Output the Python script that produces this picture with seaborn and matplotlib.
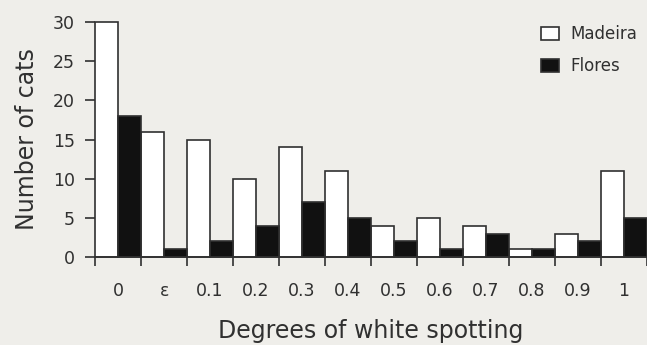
import pandas as pd
import matplotlib.pyplot as plt
import seaborn as sns

# values
categories = ['0', 'ε', '0.1', '0.2', '0.3', '0.4', '0.5', '0.6', '0.7', '0.8', '0.9', '1']
madeira = [30, 16, 15, 10, 14, 11, 4, 5, 4, 1, 3, 11]
flores = [18, 1, 2, 4, 7, 5, 2, 1, 3, 1, 2, 5]
y_ticks = [0, 5, 10, 15, 20, 25, 30]

df = pd.DataFrame({
    'spotting': categories * 2,
    'cats': madeira + flores,
    'island': ['Madeira'] * len(categories) + ['Flores'] * len(categories),
})

bg = '#efeeea'
ink = '#303030'

sns.set_style('white')
plt.rcParams['font.family'] = ['DejaVu Sans']

fig = plt.figure(figsize=(6.47, 3.45), dpi=100, facecolor=bg)
ax = fig.add_axes([0.147, 0.255, 0.853, 0.681])
ax.set_facecolor(bg)

sns.barplot(data=df, x='spotting', y='cats', hue='island', order=categories,
            hue_order=['Madeira', 'Flores'],
            palette={'Madeira': 'white', 'Flores': '#111111'},
            width=1.0, edgecolor=ink, linewidth=1.2, ax=ax)

ax.set_xlim(-0.5, len(categories) - 0.5)
ax.set_ylim(0, 30)
for bar in ax.patches:
    bar.set_clip_on(False)

# group boundaries get the tick marks, labels sit in the middle
ax.set_xticks(range(len(categories)))
ax.set_xticklabels(categories)
ax.set_xticks([i - 0.5 for i in range(len(categories) + 1)], minor=True)
ax.tick_params(axis='x', which='major', bottom=True, length=0, pad=18,
               labelsize=12.5, colors=ink)
ax.tick_params(axis='x', which='minor', bottom=True, length=6.5, width=1.2,
               color=ink, direction='out')
ax.set_yticks(y_ticks)
ax.tick_params(axis='y', left=True, length=7.5, width=1.2, color=ink, direction='out',
               labelsize=12.5, labelcolor=ink, pad=7)

for side in ['top', 'right', 'left']:
    ax.spines[side].set_visible(False)
ax.spines['bottom'].set_color(ink)
ax.spines['bottom'].set_linewidth(1.2)

ax.set_xlabel('Degrees of white spotting', fontsize=17, color=ink, labelpad=14)
ax.set_ylabel('Number of cats', fontsize=17, color=ink, labelpad=10)

leg = ax.legend(loc='upper right', bbox_to_anchor=(1.01, 1.05), frameon=False,
                fontsize=12, handlelength=1.1, handleheight=0.85,
                handletextpad=0.7, labelspacing=0.85)
for t in leg.get_texts():
    t.set_color(ink)

fig.savefig('out.png', dpi=100, facecolor=bg)
